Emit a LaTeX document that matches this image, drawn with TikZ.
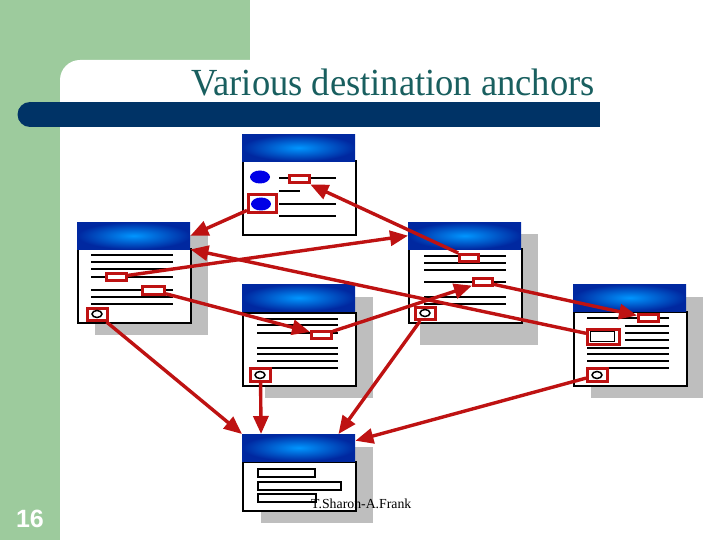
\documentclass[tikz,border=0pt]{standalone}
\usepackage{fontspec}
\setmainfont{Liberation Serif}
\newfontfamily\slidesans{Liberation Sans}
\usetikzlibrary{arrows.meta,shapes.geometric}
\definecolor{slidegreen}{RGB}{157,203,157}
\definecolor{barblue}{RGB}{0,51,102}
\definecolor{titleteal}{RGB}{25,95,95}
\definecolor{anchorred}{RGB}{190,18,18}
\definecolor{shadowgray}{RGB}{190,190,190}
\definecolor{hdrlight}{RGB}{0,150,255}
\definecolor{hdrdark}{RGB}{0,40,160}
\definecolor{dotblue}{RGB}{0,0,230}

\begin{document}
\begin{tikzpicture}[x=1pt,y=-1pt]
\useasboundingbox (0,0) rectangle (720,540);
\fill[white] (0,0) rectangle (720,540);
\fill[slidegreen] (0,0) rectangle (250,540);
\fill[white,rounded corners=20pt] (60,60) rectangle (740,560);
\fill[barblue] (30,102) rectangle (600,127);
\fill[barblue] (30,114.5) circle (12.5pt);
\node[text=titleteal,font=\fontsize{36.5}{42}\selectfont,anchor=base,yscale=1.05] (T) at (393,96) {Various destination anchors};
\node[text=white,font=\slidesans\bfseries\fontsize{25}{30}\selectfont,anchor=base] (P) at (30,527) {16};

\begin{scope}[every node/.style={fill=shadowgray,anchor=north west,inner sep=0pt}]
    \node[minimum width=113pt,minimum height=100pt] (S2) at (95,235) {};
    \node[minimum width=108pt,minimum height=101pt] (S3) at (265,297) {};
    \node[minimum width=118pt,minimum height=111pt] (S4) at (420,234) {};
    \node[minimum width=112pt,minimum height=101pt] (S5) at (591,297) {};
    \node[minimum width=112pt,minimum height=76pt] (S6) at (261,447) {};
\end{scope}
\begin{scope}[every node/.style={draw,fill=white,line width=1.8pt,anchor=north west,
              minimum width=113pt,inner sep=0pt}]
    \node[minimum height=74pt] (B1) at (242,160) {};
    \node[minimum height=74pt] (B2) at (77,248) {};
    \node[minimum height=73pt] (B3) at (242,312) {};
    \node[minimum height=74pt] (B4) at (408,248) {};
    \node[minimum height=74pt] (B5) at (573,311) {};
    \node[minimum height=49pt] (B6) at (242,461) {};
\end{scope}
\begin{scope}[every node/.style={anchor=north west,minimum width=113pt,minimum height=27pt,
              inner sep=0pt,inner color=hdrlight,outer color=hdrdark}]
    \node (H1) at (242,134) {};
    \node (H2) at (77,222) {};
    \node (H3) at (242,284) {};
    \node (H4) at (408,222) {};
    \node (H5) at (573,284) {};
    \node (H6) at (242,434) {};
\end{scope}

\draw[line width=1.2pt] (279,178) -- (336,178) (279,191) -- (300,191) (279,216) -- (336,216);
\draw[line width=1.8pt] (279,204) -- (336,204);
\draw[line width=1.2pt] (91,255) -- (173,255) (91,262) -- (173,262) (91,269) -- (173,269)
    (91,277) -- (173,277) (91,290) -- (173,290) (91,297) -- (173,297) (91,304) -- (173,304);
\draw[line width=1.2pt] (257,319) -- (338,319) (257,325) -- (338,325) (257,333) -- (338,333)
    (257,348) -- (338,348) (257,354) -- (338,354) (257,361) -- (338,361);
\draw[line width=1.8pt] (257,368) -- (338,368);
\draw[line width=1.2pt] (424,256) -- (506,256) (424,263) -- (506,263) (424,270) -- (506,270)
    (424,282) -- (506,282) (424,297) -- (506,297) (424,304) -- (506,304);
\draw[line width=1.2pt] (587,318) -- (669,318) (625,326) -- (669,326) (625,333) -- (669,333)
    (625,340) -- (669,340) (587,348) -- (669,348) (587,354) -- (669,354) (587,361) -- (669,361);
\draw[line width=1.8pt] (587,368) -- (669,368);
\draw[line width=1.8pt] (258,469) rectangle (315,477) (258,482) rectangle (341,490)
    (258,494) rectangle (316,502);

\begin{scope}[every node/.style={rectangle,draw=anchorred,line width=3pt,fill=white,inner sep=0pt}]
    \node[minimum width=20pt,minimum height=7pt] (a1) at (299.5,179.5) {};
    \node[minimum width=28pt,minimum height=18pt] (a2) at (262.5,203.5) {};
    \node[minimum width=20pt,minimum height=7pt] (b1) at (116.5,277) {};
    \node[minimum width=22pt,minimum height=8pt] (b2) at (153.5,290.5) {};
    \node[minimum width=20pt,minimum height=12pt] (b3) at (97.5,314.5) {};
    \node[minimum width=20pt,minimum height=7pt] (c1) at (321.5,335) {};
    \node[minimum width=20pt,minimum height=13pt] (c2) at (260.5,375) {};
    \node[minimum width=19pt,minimum height=7pt] (d1) at (469,258) {};
    \node[minimum width=19pt,minimum height=7pt] (d2) at (483,282) {};
    \node[minimum width=20pt,minimum height=12pt] (d3) at (425.5,313.5) {};
    \node[minimum width=20pt,minimum height=7pt] (e1) at (648.5,318) {};
    \node[minimum width=32pt,minimum height=15pt] (e2) at (603.5,337) {};
    \node[minimum width=20pt,minimum height=13pt] (e3) at (597.5,375) {};
\end{scope}
\begin{scope}[every node/.style={ellipse,inner sep=0pt}]
    \node[fill=dotblue,minimum width=20pt,minimum height=13pt] (dot1) at (260,177) {};
    \node[fill=dotblue,minimum width=20pt,minimum height=13pt] (dot2) at (261,204) {};
    \node[draw,line width=1.5pt,minimum width=10pt,minimum height=7pt] (o2) at (97,314) {};
    \node[draw,line width=1.5pt,minimum width=10pt,minimum height=7pt] (o3) at (260,375) {};
    \node[draw,line width=1.5pt,minimum width=10pt,minimum height=7pt] (o4) at (425,313) {};
    \node[draw,line width=1.5pt,minimum width=10pt,minimum height=7pt] (o5) at (597,375) {};
\end{scope}
\node[draw,line width=1.5pt,fill=white,inner sep=0pt,minimum width=24pt,minimum height=10pt] (f5) at (602.5,336.5) {};

\begin{scope}[>={Triangle[length=18pt,width=15pt]},
              every edge/.style={draw=anchorred,line width=3.4pt}]
    \path [->] (a2) edge (H2.east);
    \path [->] (e2) edge (H2.south east);
    \path [->] (b1) edge (H4.west);
    \path [->] (d1) edge (a1);
    \path [->] (b2) edge (c1);
    \path [->] (c1) edge (d2);
    \path [->] (d2) edge (e1);
    \path [->] (d3) edge (H6.19);
    \path [->] (e3) edge (H6.7);
    \path [->] (c2) edge (H6.160);
    \path [->] (b3) edge (H6.north west);
\end{scope}
\node[anchor=base west,font=\fontsize{13.8}{16}\selectfont,inner sep=0pt] (F) at (311,508) {T.Sharon-A.Frank};
\end{tikzpicture}
\end{document}
